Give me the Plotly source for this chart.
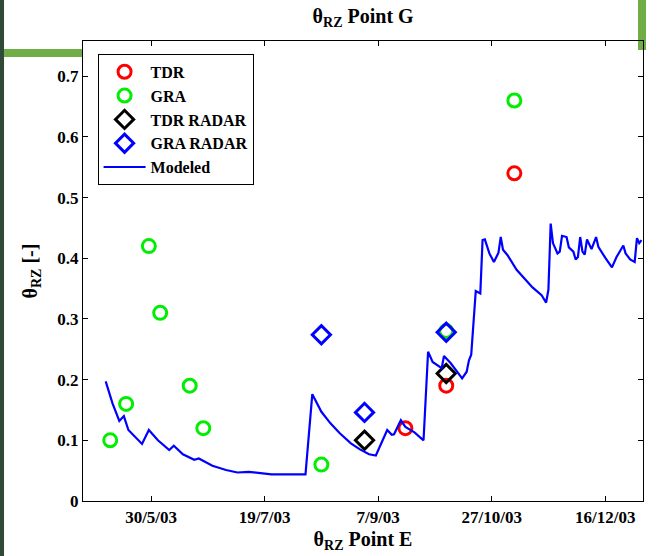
import plotly.graph_objects as go

# ---------------- data ----------------
model_dates = ["2003-05-10","2003-05-13","2003-05-16","2003-05-18","2003-05-20","2003-05-26","2003-05-29",
               "2003-06-02","2003-06-07","2003-06-09","2003-06-13","2003-06-18","2003-06-20","2003-06-26",
               "2003-07-02","2003-07-07","2003-07-12","2003-07-16","2003-07-22",
               "2003-08-01","2003-08-06","2003-08-09","2003-08-12","2003-08-13","2003-08-17","2003-08-21","2003-08-26","2003-08-30",
               "2003-09-03","2003-09-06","2003-09-11","2003-09-13","2003-09-14","2003-09-17","2003-09-19","2003-09-23","2003-09-27","2003-09-29",
               "2003-10-01","2003-10-05","2003-10-06","2003-10-09","2003-10-14","2003-10-16","2003-10-17","2003-10-18","2003-10-20","2003-10-22",
               "2003-10-23","2003-10-24","2003-10-26","2003-10-28","2003-10-30","2003-10-31",
               "2003-11-01","2003-11-03","2003-11-07","2003-11-11","2003-11-14","2003-11-18","2003-11-20","2003-11-21","2003-11-22","2003-11-23",
               "2003-11-25","2003-11-26","2003-11-27","2003-11-29","2003-11-30",
               "2003-12-02","2003-12-03","2003-12-04","2003-12-05","2003-12-06","2003-12-07","2003-12-08","2003-12-10","2003-12-12","2003-12-13",
               "2003-12-16","2003-12-19","2003-12-21","2003-12-24","2003-12-25","2003-12-27","2003-12-29","2003-12-30","2003-12-31","2004-01-01"]
model_values = [0.197,0.161,0.132,0.140,0.117,0.094,0.117,
                0.100,0.084,0.091,0.077,0.068,0.070,0.058,
                0.051,0.047,0.048,0.046,0.044,
                0.044,0.044,0.176,0.155,0.147,0.128,0.112,0.095,0.085,
                0.077,0.075,0.117,0.109,0.110,0.133,0.122,0.113,0.100,0.246,
                0.229,0.219,0.239,0.227,0.202,0.213,0.232,0.241,0.346,0.342,
                0.430,0.431,0.408,0.394,0.409,0.435,
                0.414,0.405,0.381,0.364,0.352,0.339,0.327,0.348,0.457,0.425,
                0.408,0.411,0.437,0.435,0.418,
                0.411,0.398,0.402,0.435,0.411,0.406,0.431,0.415,0.435,0.419,
                0.401,0.385,0.402,0.421,0.408,0.398,0.394,0.433,0.425,0.430]

tdr_dates = ["2003-09-19", "2003-10-07", "2003-11-06"]
tdr_values = [0.12, 0.19, 0.54]

gra_dates = ["2003-05-12", "2003-05-19", "2003-05-29", "2003-06-03", "2003-06-16",
             "2003-06-22", "2003-08-13", "2003-10-07", "2003-11-06"]
gra_values = [0.10, 0.16, 0.42, 0.31, 0.19, 0.12, 0.06, 0.28, 0.66]

tdr_radar_dates = ["2003-09-01", "2003-10-07"]
tdr_radar_values = [0.10, 0.21]

gra_radar_dates = ["2003-08-13", "2003-09-01", "2003-10-07"]
gra_radar_values = [0.274, 0.146, 0.278]

x_tick_vals = ["2003-05-30", "2003-07-19", "2003-09-07", "2003-10-27", "2003-12-16"]
x_tick_text = ["30/5/03", "19/7/03", "7/9/03", "27/10/03", "16/12/03"]
y_tick_vals = [0, 0.1, 0.2, 0.3, 0.4, 0.5, 0.6, 0.7]

# ---------------- figure ----------------
FONT = "Liberation Serif, Times New Roman, serif"

fig = go.Figure()
fig.add_trace(go.Scatter(x=tdr_dates, y=tdr_values, mode="markers", name="TDR",
                         marker=dict(symbol="circle-open", size=13, color="#ff0000",
                                     line=dict(width=3, color="#ff0000"))))
fig.add_trace(go.Scatter(x=gra_dates, y=gra_values, mode="markers", name="GRA",
                         marker=dict(symbol="circle-open", size=13, color="#00ee00",
                                     line=dict(width=3, color="#00ee00"))))
fig.add_trace(go.Scatter(x=tdr_radar_dates, y=tdr_radar_values, mode="markers", name="TDR RADAR",
                         marker=dict(symbol="diamond-open", size=14, color="#000000",
                                     line=dict(width=3, color="#000000"))))
fig.add_trace(go.Scatter(x=gra_radar_dates, y=gra_radar_values, mode="markers", name="GRA RADAR",
                         marker=dict(symbol="diamond-open", size=14, color="#0000ff",
                                     line=dict(width=3, color="#0000ff"))))
fig.add_trace(go.Scatter(x=model_dates, y=model_values, mode="lines", name="Modeled",
                         line=dict(color="#0000ff", width=2.2)))

axis_common = dict(showline=True, linecolor="black", linewidth=1.3, mirror="ticks",
                   ticks="inside", ticklen=5, tickcolor="black", showgrid=False, zeroline=False,
                   automargin=False,
                   tickfont=dict(family=FONT, size=17, color="black", weight="bold"))

fig.update_xaxes(type="date", range=["2003-04-30", "2004-01-01 16:00"],
                 tickvals=x_tick_vals, ticktext=x_tick_text,
                 title=dict(text="θ<sub>RZ</sub> Point E", standoff=6,
                            font=dict(family=FONT, size=20, color="black", weight="bold")),
                 **axis_common)
fig.update_yaxes(range=[0, 0.758], tickvals=y_tick_vals,
                 title=dict(text="θ<sub>RZ</sub> [-]", standoff=14,
                            font=dict(family=FONT, size=20, color="black", weight="bold")),
                 **axis_common)

fig.update_layout(
    width=659, height=556,
    margin=dict(l=83, r=16, t=41, b=55, autoexpand=False),
    paper_bgcolor="white", plot_bgcolor="rgba(0,0,0,0)",
    font=dict(family=FONT, color="black"),
    title=dict(text="θ<sub>RZ</sub> Point G", x=0.551, xanchor="center",
               y=1 - 16 / 556, yanchor="middle", yref="container",
               font=dict(family=FONT, size=20, color="black", weight="bold")),
    legend=dict(x=0.026, y=0.972, xanchor="left", yanchor="top",
                bgcolor="white", bordercolor="black", borderwidth=1,
                font=dict(family=FONT, size=16, color="black", weight="bold"),
                itemwidth=42, tracegroupgap=0),
    showlegend=True,
    shapes=[
        # slide background decorations
        dict(type="rect", xref="paper", yref="paper", x0=-0.149, x1=-0.141, y0=-0.13, y1=1.1,
             fillcolor="#2f4a36", line=dict(width=0), layer="below"),
        dict(type="rect", xref="paper", yref="paper", x0=-0.141, x1=0.0, y0=(501 - 57) / 460,
             y1=(501 - 49) / 460, fillcolor="#70ad47", line=dict(width=0), layer="below"),
        dict(type="rect", xref="paper", yref="paper", x0=(638 - 83) / 560, x1=(646 - 83) / 560,
             y0=(501 - 50) / 460, y1=1.1, fillcolor="#70ad47", line=dict(width=0), layer="below"),
    ],
)

fig.write_html("out.html", config={"displayModeBar": False},
               post_script="document.body.style.margin='0';document.body.style.overflow='hidden';")
